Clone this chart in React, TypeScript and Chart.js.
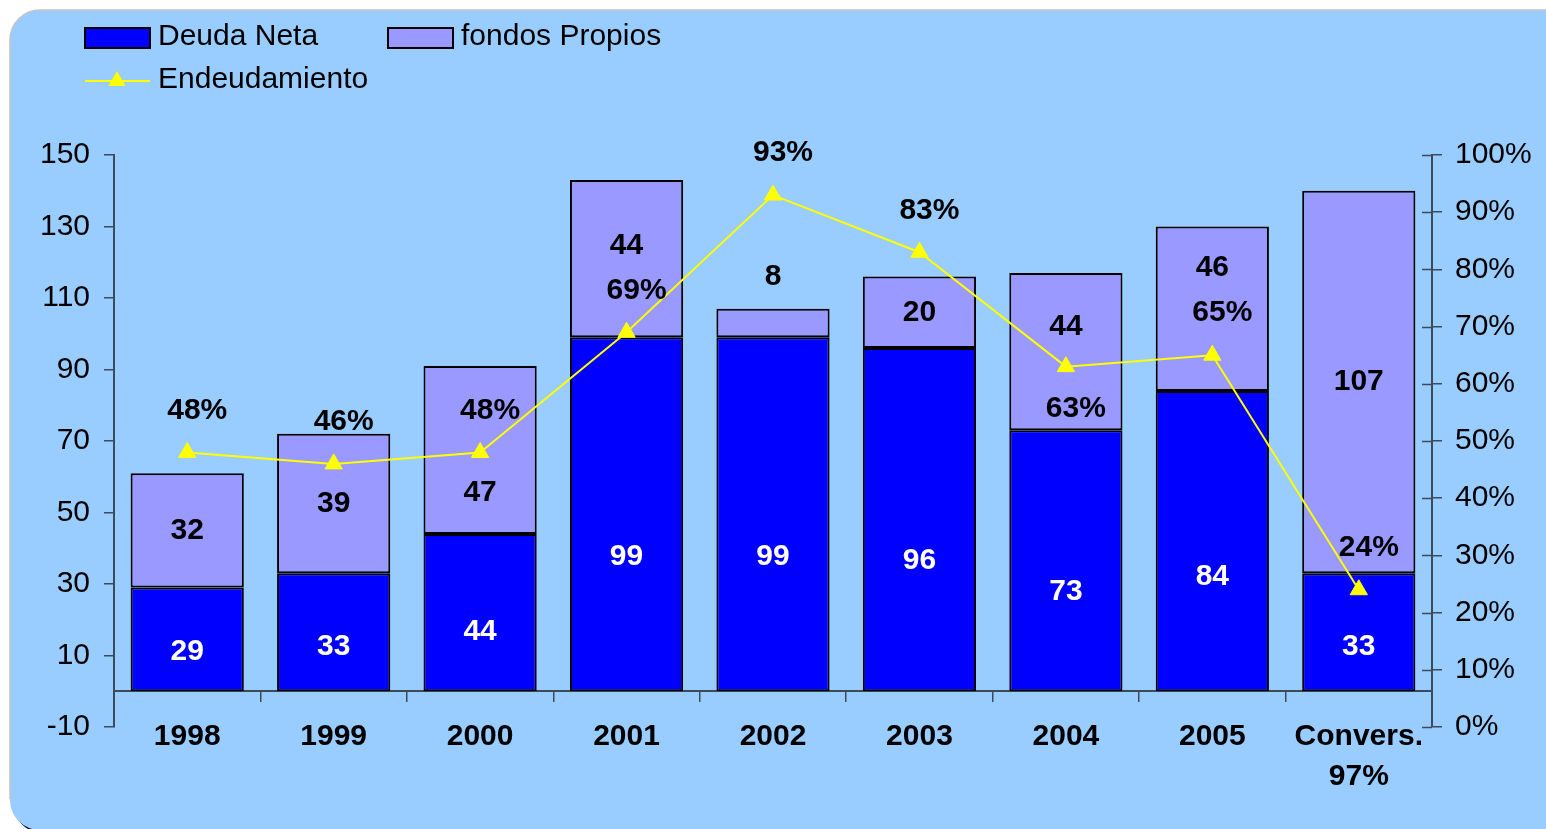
import React, { useEffect, useRef } from 'react';
import { Chart, registerables } from 'chart.js';

Chart.register(...registerables);

const categories: (string | string[])[] = ['1998', '1999', '2000', '2001', '2002', '2003', '2004', '2005', ['Convers.', '97%']];
const deudaNeta = [29, 33, 44, 99, 99, 96, 73, 84, 33];
const fondosPropios = [32, 39, 47, 44, 8, 20, 44, 46, 107];
const endeudamiento = [48, 46, 48, 69, 93, 83, 63, 65, 24];
const endeudLabelSide = ['above', 'above', 'above', 'above', 'above', 'above', 'below', 'above', 'above'];

const FONT = '"Liberation Sans", Arial, sans-serif';
const AXIS = '#3c4a5c';
const BG = '#99CCFF';
const C_DEUDA = '#0000FF';
const C_FONDOS = '#9999FF';
const C_LINE = '#FFFF00';

function roundRect(ctx: CanvasRenderingContext2D, x: number, y: number, w: number, h: number, r: number) {
  ctx.beginPath();
  ctx.moveTo(x + r, y);
  ctx.lineTo(x + w - r, y);
  ctx.arcTo(x + w, y, x + w, y + r, r);
  ctx.lineTo(x + w, y + h - r);
  ctx.arcTo(x + w, y + h, x + w - r, y + h, r);
  ctx.lineTo(x + r, y + h);
  ctx.arcTo(x, y + h, x, y + h - r, r);
  ctx.lineTo(x, y + r);
  ctx.arcTo(x, y, x + r, y, r);
  ctx.closePath();
}

function triangle(ctx: CanvasRenderingContext2D, x: number, y: number, r: number) {
  ctx.beginPath();
  for (let k = 0; k < 3; k++) {
    const a = (k * 2 * Math.PI) / 3;
    const px = x + Math.sin(a) * r;
    const py = y - Math.cos(a) * r;
    if (k === 0) ctx.moveTo(px, py);
    else ctx.lineTo(px, py);
  }
  ctx.closePath();
}

const backgroundPlugin = {
  id: 'bgPanel',
  beforeDraw(chart: any) {
    const ctx = chart.ctx as CanvasRenderingContext2D;
    const W = chart.width;
    const H = chart.height;
    ctx.save();
    ctx.fillStyle = '#ffffff';
    ctx.fillRect(0, 0, W, H);
    // shadow, visible only at the lower-left corner
    ctx.fillStyle = '#000000';
    roundRect(ctx, 13, 13, W + 40, H - 9, 30);
    ctx.fill();
    // light-blue panel, running past the right edge
    ctx.fillStyle = BG;
    roundRect(ctx, 10, 10, W + 40, H - 9, 30);
    ctx.fill();
    ctx.strokeStyle = '#c4c4c4';
    ctx.lineWidth = 1.5;
    ctx.beginPath();
    ctx.moveTo(W, 10);
    ctx.lineTo(40, 10);
    ctx.arcTo(10, 10, 10, 40, 30);
    ctx.lineTo(10, H - 30);
    ctx.stroke();
    ctx.restore();
  },
};

const legendPlugin = {
  id: 'customLegend',
  afterDraw(chart: any) {
    const ctx = chart.ctx as CanvasRenderingContext2D;
    ctx.save();
    ctx.font = `30px ${FONT}`;
    ctx.textBaseline = 'middle';
    ctx.textAlign = 'left';
    const items = [
      { label: chart.data.datasets[0].label, color: C_DEUDA, x: 85, y: 28 },
      { label: chart.data.datasets[1].label, color: C_FONDOS, x: 388, y: 28 },
    ];
    items.forEach((it) => {
      ctx.fillStyle = it.color;
      ctx.fillRect(it.x, it.y, 65, 20);
      ctx.strokeStyle = '#000';
      ctx.lineWidth = 2;
      ctx.strokeRect(it.x, it.y, 65, 20);
      ctx.fillStyle = '#000';
      ctx.fillText(it.label, it.x + 73, it.y + 9);
    });
    ctx.strokeStyle = C_LINE;
    ctx.lineWidth = 2;
    ctx.beginPath();
    ctx.moveTo(85, 81);
    ctx.lineTo(150, 81);
    ctx.stroke();
    ctx.fillStyle = C_LINE;
    triangle(ctx, 117, 81, 10);
    ctx.fill();
    ctx.fillStyle = '#000';
    ctx.fillText(chart.data.datasets[2].label, 158, 80);

    // inner tick marks of the right axis
    const s = chart.scales.y1;
    ctx.strokeStyle = AXIS;
    ctx.lineWidth = 1.5;
    s.ticks.forEach((_t: any, i: number) => {
      const py = Math.round(s.getPixelForTick(i)) + 0.5;
      ctx.beginPath();
      ctx.moveTo(s.left - 10, py);
      ctx.lineTo(s.left, py);
      ctx.stroke();
    });
    ctx.restore();
  },
};

const labelsPlugin = {
  id: 'valueLabels',
  afterDatasetsDraw(chart: any) {
    const ctx = chart.ctx as CanvasRenderingContext2D;
    const mD = chart.getDatasetMeta(0);
    const mF = chart.getDatasetMeta(1);
    const mL = chart.getDatasetMeta(2);
    ctx.save();
    ctx.font = `bold 30px ${FONT}`;
    ctx.textAlign = 'center';
    ctx.textBaseline = 'middle';
    for (let i = 0; i < categories.length; i++) {
      const d = mD.data[i].getProps(['x', 'y', 'base'], true);
      const f = mF.data[i].getProps(['x', 'y', 'base'], true);
      const p = mL.data[i].getProps(['x', 'y'], true);

      const yD = d.base - 0.38 * (d.base - d.y);
      ctx.fillStyle = '#ffffff';
      ctx.fillText(String(deudaNeta[i]), d.x, yD);

      const lineY = endeudLabelSide[i] === 'below' ? p.y + 42 : p.y - 42;
      const hF = f.base - f.y;
      let fy = (f.y + f.base) / 2;
      if (hF < 40) {
        fy = f.y - 32;
      } else {
        // keep the value label clear of the line's label and marker
        const zones = [
          [lineY, 45],
          [p.y, 40],
        ];
        for (let pass = 0; pass < 2; pass++) {
          zones.forEach(([c, r]) => {
            if (fy > c - r && fy < c + r) fy = fy < c ? c - r : c + r;
          });
        }
      }
      ctx.fillStyle = '#000000';
      ctx.fillText(String(fondosPropios[i]), f.x, fy);

      ctx.fillText(`${endeudamiento[i]}%`, p.x + 10, lineY);
    }
    ctx.restore();
  },
};

export default function App() {
  const ref = useRef<HTMLCanvasElement | null>(null);
  useEffect(() => {
    if (!ref.current) return;
    Chart.defaults.font.family = FONT;
    const chart = new Chart(ref.current, {
      type: 'bar',
      data: {
        labels: categories as any,
        datasets: [
          {
            type: 'bar',
            label: 'Deuda Neta',
            data: deudaNeta,
            backgroundColor: C_DEUDA,
            borderColor: '#000',
            borderWidth: 2,
            borderSkipped: false,
            yAxisID: 'y',
            barPercentage: 0.773,
            categoryPercentage: 1,
            order: 1,
          },
          {
            type: 'bar',
            label: 'fondos Propios',
            data: fondosPropios,
            backgroundColor: C_FONDOS,
            borderColor: '#000',
            borderWidth: 2,
            borderSkipped: false,
            yAxisID: 'y',
            barPercentage: 0.773,
            categoryPercentage: 1,
            order: 1,
          },
          {
            type: 'line',
            label: 'Endeudamiento',
            data: endeudamiento,
            borderColor: C_LINE,
            backgroundColor: C_LINE,
            borderWidth: 2,
            pointStyle: 'triangle',
            pointRadius: 10,
            pointBorderWidth: 1,
            pointBackgroundColor: C_LINE,
            pointBorderColor: C_LINE,
            tension: 0,
            yAxisID: 'y1',
            order: 0,
          } as any,
        ],
      },
      options: {
        animation: false,
        responsive: true,
        maintainAspectRatio: false,
        layout: { padding: { top: 155, bottom: 102, left: 0, right: 0 } },
        plugins: {
          legend: { display: false },
          tooltip: { enabled: false },
          title: { display: false },
        },
        scales: {
          x: {
            type: 'category',
            stacked: true,
            position: { y: 0 } as any,
            offset: true,
            grid: {
              display: true,
              drawOnChartArea: false,
              drawTicks: true,
              tickLength: 10,
              color: AXIS,
              lineWidth: 1.5,
              offset: true,
            },
            border: { display: true, color: AXIS, width: 2 },
            ticks: {
              font: { size: 30, weight: 'bold', lineHeight: 1.33 },
              color: '#000',
              padding: 16,
              autoSkip: false,
              maxRotation: 0,
            },
          },
          y: {
            type: 'linear',
            position: 'left',
            stacked: true,
            min: -10,
            max: 150,
            ticks: {
              stepSize: 20,
              font: { size: 30 },
              color: '#000',
              padding: 14,
            },
            grid: { drawOnChartArea: false, tickLength: 10, color: AXIS, lineWidth: 1.5 },
            border: { display: true, color: AXIS, width: 2 },
            afterFit: (s: any) => {
              s.width = 114;
            },
          },
          y1: {
            type: 'linear',
            position: 'right',
            min: 0,
            max: 100,
            ticks: {
              stepSize: 10,
              font: { size: 30 },
              color: '#000',
              padding: 13,
              callback: (v: any) => `${v}%`,
            },
            grid: { drawOnChartArea: false, tickLength: 10, color: AXIS, lineWidth: 1.5 },
            border: { display: true, color: AXIS, width: 2 },
            afterFit: (s: any) => {
              s.width = 114;
            },
          },
        },
      },
      plugins: [backgroundPlugin, labelsPlugin, legendPlugin],
    });
    return () => chart.destroy();
  }, []);

  return (
    <div style={{ position: 'fixed', left: 0, top: 0, width: 1546, height: 829, background: '#fff' }}>
      <canvas ref={ref} />
    </div>
  );
}
